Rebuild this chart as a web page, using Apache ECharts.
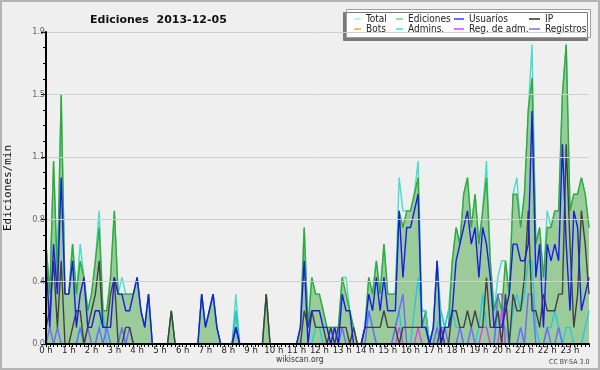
<!DOCTYPE html>
<html>
<head>
<meta charset="utf-8">
<script src="https://cdn.jsdelivr.net/npm/echarts@6/dist/echarts.min.js"></script>
<style>
html,body{margin:0;padding:0;background:#efefef;}
#wrap{position:relative;width:600px;height:370px;}
#c{position:absolute;left:0;top:0;width:600px;height:370px;}
#frame{position:absolute;left:0;top:0;width:600px;height:370px;box-sizing:border-box;border:2px solid #b4b4b4;pointer-events:none;}
</style>
</head>
<body>
<div id="wrap"><div id="c"></div><div id="frame"></div></div>
<script>
// Hour tick labels (one every 6 ten-minute slots)
const hourLabels = ['0 h','1 h','2 h','3 h','4 h','5 h','6 h','7 h','8 h','9 h','10 h','11 h',
  '12 h','13 h','14 h','15 h','16 h','17 h','18 h','19 h','20 h','21 h','22 h','23 h'];
const yTickLabels = ['0.0','0.4','0.8','1.1','1.5','1.9'];

// Edits per minute, 10-minute buckets (144 per day)
const total = [0.6,0.3,1.1,0.4,1.5,0.3,0.3,0.6,0.3,0.6,
 0.4,0.2,0.3,0.5,0.8,0.2,0.2,0.4,0.8,0.3,
 0.4,0.3,0.3,0.3,0.4,0.2,0.1,0.3,0,0,
 0,0,0,0.2,0,0,0,0,0,0,
 0,0.3,0.1,0.2,0.3,0.1,0,0,0,0,
 0.3,0,0,0,0,0,0,0,0.3,0,
 0,0,0,0,0,0,0,0.1,0.7,0.1,
 0.4,0.3,0.3,0.2,0.1,0.1,0.1,0.1,0.4,0.4,
 0.2,0.1,0,0,0.1,0.4,0.3,0.5,0.3,0.6,
 0.3,0.3,0.3,1.0,0.8,0.8,0.8,0.9,1.1,0.2,
 0.2,0,0.1,0.5,0.2,0.1,0.2,0.5,0.7,0.6,
 0.9,1.0,0.7,0.9,0.6,0.8,1.1,0.5,0.2,0.4,
 0.5,0.5,0.3,0.9,1.0,0.7,0.9,1.4,1.8,0.6,
 0.7,0.4,0.8,0.7,0.8,0.8,1.5,1.8,0.8,0.9,
 0.9,1.0,0.9,0.7];
const ediciones = [0.6,0.3,1.1,0.4,1.5,0.3,0.3,0.6,0.3,0.5,
 0.4,0.2,0.3,0.5,0.7,0.2,0.2,0.4,0.8,0.3,
 0.3,0.3,0.3,0.3,0.4,0.2,0.1,0.3,0,0,
 0,0,0,0.2,0,0,0,0,0,0,
 0,0.3,0.1,0.2,0.3,0.1,0,0,0,0,
 0.2,0,0,0,0,0,0,0,0.3,0,
 0,0,0,0,0,0,0,0.1,0.7,0.1,
 0.4,0.3,0.3,0.2,0.1,0.1,0.1,0.1,0.4,0.3,
 0.2,0.1,0,0,0.1,0.4,0.3,0.5,0.3,0.6,
 0.3,0.3,0.3,0.8,0.7,0.8,0.8,0.9,1.0,0.1,
 0.2,0,0.1,0.5,0.1,0.1,0.1,0.5,0.7,0.6,
 0.9,1.0,0.7,0.9,0.6,0.8,1.0,0.5,0.2,0.3,
 0.2,0.5,0.3,0.9,0.9,0.7,0.9,1.4,1.6,0.6,
 0.7,0.4,0.7,0.7,0.8,0.8,1.5,1.8,0.8,0.9,
 0.9,1.0,0.9,0.7];
const usuarios = [0.5,0.1,0.6,0.3,1.0,0.3,0.3,0.5,0.1,0.3,
 0.4,0.1,0.1,0.2,0.2,0.1,0.1,0.1,0.4,0.3,
 0.3,0.2,0.2,0.3,0.4,0.2,0.1,0.3,0,0,
 0,0,0,0,0,0,0,0,0,0,
 0,0.3,0.1,0.2,0.3,0.1,0,0,0,0,
 0.1,0,0,0,0,0,0,0,0,0,
 0,0,0,0,0,0,0,0.1,0.5,0,
 0.2,0.2,0.2,0.1,0.1,0,0.1,0,0.3,0.2,
 0.2,0,0,0,0.1,0.3,0.2,0.4,0.2,0.4,
 0.2,0.2,0.2,0.8,0.4,0.7,0.7,0.8,0.9,0.1,
 0.1,0,0.1,0.5,0,0.1,0.1,0.2,0.5,0.6,
 0.7,0.8,0.6,0.7,0.4,0.7,0.6,0.4,0.1,0.1,
 0.1,0.2,0.3,0.6,0.6,0.5,0.5,0.6,1.4,0.4,
 0.6,0.1,0.6,0.5,0.6,0.5,1.2,0.6,0.2,0.8,
 0.7,0.2,0.3,0.4];
const ip = [0.1,0.2,0.5,0.1,0.5,0,0,0.1,0.2,0.2,
 0,0.1,0.2,0.3,0.5,0.1,0.1,0.3,0.4,0,
 0,0.1,0.1,0,0,0,0,0,0,0,
 0,0,0,0.2,0,0,0,0,0,0,
 0,0,0,0,0,0,0,0,0,0,
 0.1,0,0,0,0,0,0,0,0.3,0,
 0,0,0,0,0,0,0,0,0.2,0.1,
 0.2,0.1,0.1,0.1,0,0.1,0,0.1,0.1,0.1,
 0,0.1,0,0,0.1,0.1,0.1,0.1,0.1,0.2,
 0.1,0.1,0.1,0,0.1,0.1,0.1,0.1,0.1,0.1,
 0.1,0,0,0,0.1,0,0,0.2,0.2,0.1,
 0.1,0.2,0.1,0.2,0.1,0.1,0.4,0.1,0.1,0.2,
 0,0.3,0,0.3,0.2,0.2,0.4,0.8,0.2,0.2,
 0.1,0.3,0.2,0.2,0.2,0.3,0.3,1.2,0.6,0.1,
 0.3,0.8,0.6,0.3];
const bots = [];
const admins = [0,0,0,0,0,0,0,0,0,0.1,
 0,0,0,0,0.1,0.2,0,0,0,0,
 0.1,0,0,0,0,0,0,0,0,0,
 0,0,0,0,0,0,0,0,0,0,
 0,0,0,0,0,0,0,0,0,0,
 0.2,0,0,0,0,0,0,0,0,0,
 0,0,0,0,0,0,0,0,0,0,
 0,0.1,0.1,0,0,0,0,0,0,0,
 0,0,0,0,0.1,0.2,0.1,0,0,0,
 0,0,0.1,0.2,0,0,0,0.2,0.4,0.2,
 0.2,0,0,0.1,0.2,0.1,0.2,0.2,0.1,0.1,
 0,0,0,0,0.1,0.3,0.1,0,0,0.2,
 0.1,0.1,0,0.2,0.3,0.2,0.3,0.5,0.5,0.1,
 0,0,0.1,0.1,0.2,0.1,0,0.1,0.1,0,
 0,0,0.1,0.2];
const regAdm = [0,0,0,0,0,0,0,0,0,0,
 0,0,0,0,0,0,0,0,0,0,
 0,0,0,0,0,0,0,0,0,0,
 0,0,0,0,0,0,0,0,0,0,
 0,0,0,0,0,0,0,0,0,0,
 0,0,0,0,0,0,0,0,0,0,
 0,0,0,0,0,0,0,0,0,0,
 0,0,0,0,0,0,0,0,0,0,
 0,0,0,0,0,0,0,0,0,0,
 0,0,0,0.1,0,0,0,0,0.1,0,
 0,0,0,0,0,0,0,0,0,0,
 0,0,0,0,0,0.1,0.1,0,0,0,
 0.2,0,0,0,0,0,0,0,0,0,
 0,0,0,0,0,0,0,0,0,0,
 0,0,0,0];
const registros = [0,0.1,0,0.1,0,0,0,0,0,0.1,
 0,0.1,0,0,0.1,0,0.1,0,0,0,
 0.1,0,0.1,0,0,0,0,0,0,0,
 0,0,0,0,0,0,0,0,0,0,
 0,0,0,0,0,0,0,0,0,0,
 0.1,0,0,0,0,0,0,0,0,0,
 0,0,0,0,0,0,0,0,0,0,
 0,0,0,0,0,0,0,0,0.1,0,
 0,0,0,0,0,0.2,0.1,0,0,0,
 0,0,0.1,0.2,0.3,0,0,0,0,0,
 0,0,0,0.1,0,0.1,0,0,0,0.1,
 0,0,0.1,0,0,0,0,0,0,0.3,
 0.3,0,0,0,0,0.1,0,0.3,0.3,0,
 0,0,0.1,0,0,0.1,0,0,0,0,
 0,0,0,0];

const categories = total.map((_, i) => (i % 6 === 0 ? hourLabels[i / 6] : ''));

const colors = {
  'Total': '#48dccc', 'Ediciones': '#35a835', 'Usuarios': '#1a1ae6', 'IP': '#404040',
  'Bots': '#ffa030', 'Admins.': '#28c8e0', 'Reg. de adm.': '#d846ec', 'Registros': '#6a6aff'
};
const legendColors = {
  'Total': '#a8ecec', 'Ediciones': '#80d080', 'Usuarios': '#3a3aff', 'IP': '#303030',
  'Bots': '#ffa030', 'Admins.': '#40d8e8', 'Reg. de adm.': '#e040f0', 'Registros': '#7070ff'
};

function lineSeries(name, data, extra) {
  return Object.assign({
    name: name, type: 'line', data: data, showSymbol: false, symbol: 'none',
    animation: false, color: legendColors[name],
    lineStyle: { color: colors[name], width: 1.4 }
  }, extra || {});
}

const font = '"DejaVu Sans Condensed", "Liberation Sans", sans-serif';
const legendCols = [
  { left: 354, names: ['Total', 'Bots'], w: 7 },
  { left: 396, names: ['Ediciones', 'Admins.'], w: 7 },
  { left: 454, names: ['Usuarios', 'Reg. de adm.'], w: 10 },
  { left: 529, names: ['IP', 'Registros'], w: 11 }
];

const chart = echarts.init(document.getElementById('c'), null, { renderer: 'canvas' });
chart.setOption({
  backgroundColor: 'transparent',
  animation: false,
  title: {
    text: 'Ediciones  2013-12-05', left: 85, top: 10,
    textStyle: { fontFamily: 'DejaVu Sans', fontSize: 11, fontWeight: 'bold', color: '#111' }
  },
  grid: { left: 46, right: 11, top: 32, bottom: 26, containLabel: false, outerBoundsMode: 'none' },
  legend: legendCols.map(c => ({
    left: c.left, top: 14, orient: 'vertical', padding: 0, itemGap: 0,
    itemWidth: c.w, itemHeight: 1.5, icon: 'rect', selectedMode: false, z: 6,
    data: c.names,
    textStyle: { fontFamily: font, fontSize: 10, color: '#222', lineHeight: 10 }
  })),
  graphic: [
    { type: 'rect', z: 5, shape: { x: 346.5, y: 9.5, width: 244, height: 28 },
      style: { fill: '#ffffff', stroke: '#a0a0a0', lineWidth: 1,
        shadowColor: '#7a7a7a', shadowOffsetX: -3, shadowOffsetY: 3, shadowBlur: 0 } },
    { type: 'text', left: 276, top: 355, z: 5,
      style: { text: 'wikiscan.org', font: '8.5px "DejaVu Sans Condensed", "Liberation Sans"', fill: '#333' } },
    { type: 'text', left: 549, top: 359, z: 5,
      style: { text: 'CC BY-SA 3.0', font: '7px "DejaVu Sans Condensed", "Liberation Sans"', fill: '#444' } }
  ],
  xAxis: {
    type: 'category', data: categories, boundaryGap: false, z: 10,
    axisLine: { lineStyle: { color: '#000', width: 2 } },
    axisTick: { interval: 0, length: 3, lineStyle: { color: '#000', width: 1 } },
    axisLabel: { interval: 5, margin: 2, fontFamily: font, fontSize: 9.5, color: '#222' },
    splitLine: { show: false }
  },
  yAxis: {
    type: 'value', min: 0, max: 1.875, interval: 0.375, z: 10,
    name: 'Ediciones/min', nameLocation: 'middle', nameGap: 32, nameRotate: 90,
    nameTextStyle: { fontFamily: 'DejaVu Sans Mono', fontSize: 11, color: '#111' },
    axisLine: { show: true, lineStyle: { color: '#000', width: 2 } },
    axisTick: { show: true, length: 5, lineStyle: { color: '#000' } },
    minorTick: { show: true, splitNumber: 4, length: 3, lineStyle: { color: '#000' } },
    axisLabel: { margin: 1, fontFamily: font, fontSize: 9, color: '#666',
      formatter: v => yTickLabels[Math.round(v / 0.375)] },
    splitLine: { show: true, lineStyle: { color: '#cfcfcf', width: 1 } }
  },
  series: [
    lineSeries('Total', total),
    lineSeries('Ediciones', ediciones, { areaStyle: { color: '#9ccb9a', opacity: 1 } }),
    lineSeries('Bots', bots),
    lineSeries('Admins.', admins),
    lineSeries('Registros', registros),
    lineSeries('Reg. de adm.', regAdm),
    lineSeries('IP', ip),
    lineSeries('Usuarios', usuarios)
  ]
});
</script>
</body>
</html>
